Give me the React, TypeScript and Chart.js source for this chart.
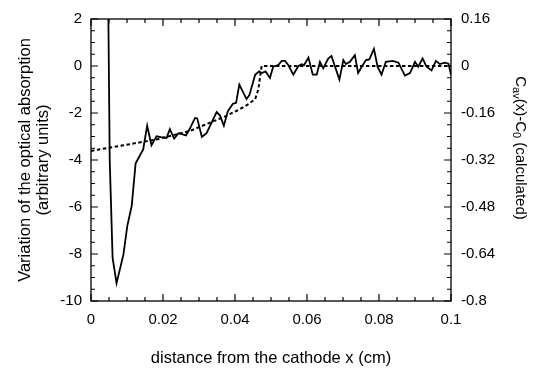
import React, { useEffect, useRef } from "react";
import { Chart, registerables } from "chart.js";

Chart.register(...registerables);

// measured optical absorption (left axis, arbitrary units)
const absorptionX = [0.0048, 0.0052, 0.006, 0.0071, 0.009, 0.0101, 0.0113, 0.0124, 0.0145, 0.0156, 0.0168, 0.0182, 0.0194, 0.021, 0.0219, 0.0231, 0.0243, 0.0264, 0.0275, 0.0289, 0.0295, 0.0308, 0.0321, 0.0349, 0.0358, 0.0369, 0.038, 0.0394, 0.0403, 0.0412, 0.0432, 0.044, 0.0456, 0.0467, 0.0474, 0.0485, 0.0497, 0.0506, 0.052, 0.053, 0.0539, 0.0548, 0.0562, 0.0576, 0.0585, 0.0592, 0.0604, 0.0616, 0.0627, 0.0636, 0.0645, 0.0659, 0.0668, 0.0678, 0.069, 0.0701, 0.0708, 0.0719, 0.0733, 0.0742, 0.0755, 0.0764, 0.0773, 0.0786, 0.0796, 0.0807, 0.0819, 0.0838, 0.0854, 0.0872, 0.0886, 0.09, 0.0909, 0.0921, 0.0932, 0.0946, 0.0958, 0.0969, 0.0983, 0.0993, 0.1];
const absorptionY = [2.5, -4, -8.17, -9.24, -8.03, -6.79, -5.96, -4.14, -3.55, -2.54, -3.37, -2.99, -3.03, -3.06, -2.69, -3.09, -2.86, -2.95, -2.65, -2.21, -2.23, -3.02, -2.86, -1.96, -2.1, -2.54, -1.93, -1.61, -1.57, -0.79, -1.41, -1.24, -0.37, -0.23, -0.3, -0.23, -0.51, -0.03, 0.04, 0.22, 0.22, 0.04, -0.37, 0, 0.08, 0.04, 0.36, -0.37, -0.37, 0.18, -0.1, 0.32, 0.43, -0.03, -0.58, 0.25, 0.08, 0.18, 0.46, -0.3, 0.04, 0.25, 0.28, 0.73, -0.03, -0.37, 0.18, 0.22, 0.14, -0.41, -0.3, 0.18, -0.03, 0.32, -0.03, -0.19, 0.22, 0.08, 0.14, 0.1, -0.37];

// calculated C_av(x) - C_0 (right axis)
const calcX = [0, 0.009, 0.0182, 0.0275, 0.0368, 0.0412, 0.0432, 0.0456, 0.0465, 0.0471, 0.0474, 0.1];
const calcY = [-0.289, -0.27, -0.25, -0.221, -0.174, -0.148, -0.134, -0.113, -0.079, -0.024, 0, 0];

const xTicks = [0, 0.02, 0.04, 0.06, 0.08, 0.1];
const xTickLabels = ["0", "0.02", "0.04", "0.06", "0.08", "0.1"];
const leftTicks = [-10, -8, -6, -4, -2, 0, 2];
const leftTickLabels = ["-10", "-8", "-6", "-4", "-2", "0", "2"];
const rightTicks = [-0.8, -0.64, -0.48, -0.32, -0.16, 0, 0.16];
const rightTickLabels = ["-0.8", "-0.64", "-0.48", "-0.32", "-0.16", "0", "0.16"];

const FONT = "'Liberation Sans', Arial, Helvetica, sans-serif";

const framePlugin = {
  id: "framePlugin",
  afterDraw(chart: any) {
    const { ctx, chartArea: a, scales } = chart;
    ctx.save();
    ctx.strokeStyle = "#000";
    ctx.lineWidth = 1.3;
    ctx.strokeRect(a.left, a.top, a.right - a.left, a.bottom - a.top);
    ctx.lineWidth = 1.2;
    ctx.beginPath();
    // x ticks (bottom and top, inward)
    for (let i = 0; i <= 20; i++) {
      const v = i * 0.005;
      const px = scales.x.getPixelForValue(v);
      const len = i % 4 === 0 ? 7 : 4;
      ctx.moveTo(px, a.bottom);
      ctx.lineTo(px, a.bottom - len);
      ctx.moveTo(px, a.top);
      ctx.lineTo(px, a.top + len);
    }
    // left ticks
    for (let i = 0; i <= 24; i++) {
      const v = -10 + i * 0.5;
      const py = scales.y.getPixelForValue(v);
      const len = i % 4 === 0 ? 7 : 4;
      ctx.moveTo(a.left, py);
      ctx.lineTo(a.left + len, py);
    }
    // right ticks
    for (let i = 0; i <= 24; i++) {
      const v = -0.8 + i * 0.04;
      const py = scales.y2.getPixelForValue(v);
      const len = i % 4 === 0 ? 7 : 4;
      ctx.moveTo(a.right, py);
      ctx.lineTo(a.right - len, py);
    }
    ctx.stroke();

    // titles
    ctx.fillStyle = "#000";
    ctx.font = `16.5px ${FONT}`;
    ctx.textAlign = "center";
    ctx.textBaseline = "middle";
    ctx.fillText("distance from the cathode x (cm)", (a.left + a.right) / 2, 358);

    const cy = (a.top + a.bottom) / 2;
    ctx.save();
    ctx.translate(25, cy);
    ctx.rotate(-Math.PI / 2);
    ctx.fillText("Variation of the optical absorption", 0, 0);
    ctx.fillText("(arbitrary units)", 0, 18);
    ctx.restore();

    // right title with subscripts
    const parts: [string, boolean][] = [
      ["C", false],
      ["av", true],
      ["(x)-C", false],
      ["0", true],
      [" (calculated)", false],
    ];
    const big = `15px ${FONT}`;
    const small = `11px ${FONT}`;
    let total = 0;
    for (const [t, sub] of parts) {
      ctx.font = sub ? small : big;
      total += ctx.measureText(t).width;
    }
    ctx.save();
    ctx.translate(521, 148);
    ctx.rotate(Math.PI / 2);
    ctx.textAlign = "left";
    ctx.textBaseline = "alphabetic";
    let x = -total / 2;
    for (const [t, sub] of parts) {
      ctx.font = sub ? small : big;
      ctx.fillText(t, x, sub ? 8 : 5);
      x += ctx.measureText(t).width;
    }
    ctx.restore();
    ctx.restore();
  },
};

export default function App() {
  const ref = useRef<HTMLCanvasElement | null>(null);
  useEffect(() => {
    if (!ref.current) return;
    const chart = new Chart(ref.current, {
      type: "line",
      data: {
        datasets: [
          {
            label: "absorption",
            data: absorptionX.map((x, i) => ({ x, y: absorptionY[i] })),
            borderColor: "#000",
            borderWidth: 1.8,
            pointRadius: 0,
            tension: 0,
            yAxisID: "y",
            clip: 0,
          },
          {
            label: "calculated",
            data: calcX.map((x, i) => ({ x, y: calcY[i] })),
            borderColor: "#000",
            borderWidth: 2,
            borderDash: [3.5, 2.5],
            pointRadius: 0,
            tension: 0,
            yAxisID: "y2",
            clip: 0,
          },
        ],
      },
      options: {
        animation: false,
        responsive: false,
        maintainAspectRatio: false,
        layout: { padding: { top: 11, left: 0, right: 0, bottom: 0 } },
        plugins: { legend: { display: false }, tooltip: { enabled: false } },
        scales: {
          x: {
            type: "linear",
            position: "bottom",
            min: 0,
            max: 0.1,
            grid: { display: false, drawTicks: false },
            border: { display: false },
            afterBuildTicks: (s: any) => {
              s.ticks = xTicks.map((v) => ({ value: v }));
            },
            afterFit: (s: any) => {
              s.height = 67;
            },
            ticks: {
              padding: 10,
              color: "#000",
              font: { family: FONT, size: 15 },
              maxRotation: 0,
              autoSkip: false,
              callback: (_v: any, i: number) => xTickLabels[i],
            },
          },
          y: {
            type: "linear",
            position: "left",
            min: -10,
            max: 2,
            grid: { display: false, drawTicks: false },
            border: { display: false },
            afterBuildTicks: (s: any) => {
              s.ticks = leftTicks.map((v) => ({ value: v }));
            },
            afterFit: (s: any) => {
              s.width = 91;
            },
            ticks: {
              padding: 9,
              color: "#000",
              font: { family: FONT, size: 15 },
              autoSkip: false,
              callback: (_v: any, i: number) => leftTickLabels[i],
            },
          },
          y2: {
            type: "linear",
            position: "right",
            min: -0.8,
            max: 0.16,
            grid: { display: false, drawTicks: false },
            border: { display: false },
            afterBuildTicks: (s: any) => {
              s.ticks = rightTicks.map((v) => ({ value: v }));
            },
            afterFit: (s: any) => {
              s.width = 95;
            },
            ticks: {
              padding: 10,
              color: "#000",
              font: { family: FONT, size: 15 },
              autoSkip: false,
              callback: (_v: any, i: number) => rightTickLabels[i],
            },
          },
        },
      },
      plugins: [framePlugin],
    } as any);
    return () => chart.destroy();
  }, []);
  return (
    <div style={{ position: "absolute", left: 0, top: 0, width: 546, height: 368, background: "#fff" }}>
      <canvas ref={ref} width={546} height={368} style={{ display: "block" }} />
    </div>
  );
}
